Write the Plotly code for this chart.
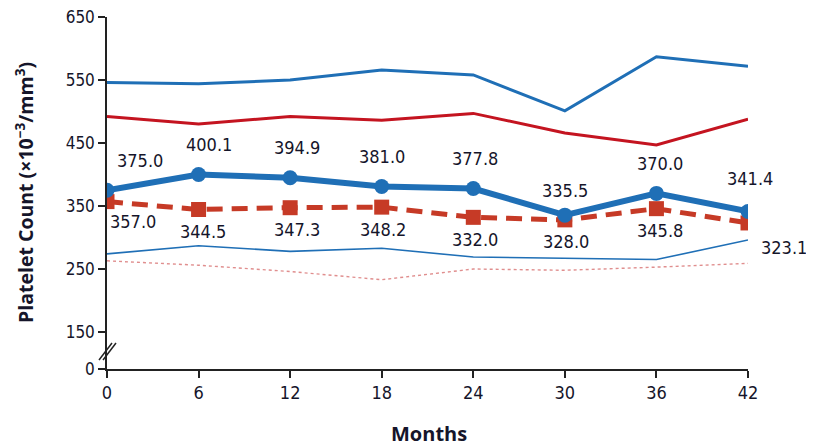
import plotly.graph_objects as go

months = [0, 6, 12, 18, 24, 30, 36, 42]
blue_mean = [375.0, 400.1, 394.9, 381.0, 377.8, 335.5, 370.0, 341.4]
red_mean = [357.0, 344.5, 347.3, 348.2, 332.0, 328.0, 345.8, 323.1]
blue_upper = [546, 544, 550, 566, 558, 501, 587, 572]
red_upper = [492, 480, 492, 486, 497, 466, 447, 488]
blue_lower = [274, 287, 278, 283, 269, 267, 265, 296]
red_lower = [263, 256, 246, 233, 250, 248, 253, 259]
y_ticks = [150, 250, 350, 450, 550, 650]
x_ticks = [0, 6, 12, 18, 24, 30, 36, 42]

BLUE = "#1f6fb6"
RED = "#c63a26"
DARK_RED = "#c41420"
TXT = "#15152a"
FONT = "DejaVu Sans Condensed, DejaVu Sans, sans-serif"
TFONT = "Open Sans, sans-serif"

# y value drawn at the broken-axis "0" tick position
ZERO_POS = 91.3
PW, PH = 641, 352  # plot area in px

fig = go.Figure()
fig.add_trace(go.Scatter(x=months, y=red_lower, mode="lines",
                         line=dict(color="#e08e8e", width=1.4, dash="dot"), hoverinfo="skip"))
fig.add_trace(go.Scatter(x=months, y=blue_lower, mode="lines",
                         line=dict(color=BLUE, width=1.6), hoverinfo="skip"))
fig.add_trace(go.Scatter(x=months, y=red_upper, mode="lines",
                         line=dict(color=DARK_RED, width=3), hoverinfo="skip"))
fig.add_trace(go.Scatter(x=months, y=blue_upper, mode="lines",
                         line=dict(color=BLUE, width=3), hoverinfo="skip"))
fig.add_trace(go.Scatter(x=months, y=red_mean, mode="lines+markers",
                         line=dict(color=RED, width=5, dash="16px,9px"),
                         marker=dict(symbol="square", size=15, color=RED)))
fig.add_trace(go.Scatter(x=months, y=blue_mean, mode="lines+markers",
                         line=dict(color=BLUE, width=6),
                         marker=dict(symbol="circle", size=15, color=BLUE)))

blue_xs = [33, 10, 7, 0, 2, 0, 4, 2]
blue_ys = [30, 30, 30, 30, 30, 25, 30, 33]
red_xs = [26, 4, 7, 1, 2, 1, 4, 36]
red_ys = [20, 22, 22, 22, 22, 22, 22, 25]
for i, m in enumerate(months):
    fig.add_annotation(x=m, y=blue_mean[i], text=f"{blue_mean[i]:.1f}", showarrow=False,
                       xshift=blue_xs[i], yshift=blue_ys[i],
                       font=dict(family=FONT, size=18, color=TXT))
    fig.add_annotation(x=m, y=red_mean[i], text=f"{red_mean[i]:.1f}", showarrow=False,
                       xshift=red_xs[i], yshift=-red_ys[i],
                       font=dict(family=FONT, size=18, color=TXT))

# axis titles
fig.add_annotation(xref="paper", yref="paper", x=0, y=0.5, xshift=-83, textangle=-90,
                   xanchor="center", yanchor="middle",
                   text="<b>Platelet Count (×10<sup>−3</sup>/mm<sup>3</sup>)</b>", showarrow=False,
                   font=dict(family=TFONT, size=19.5, color=TXT))
fig.add_annotation(xref="paper", yref="paper", x=0.5, y=0, yshift=-64, xshift=1,
                   xanchor="center", yanchor="middle",
                   text="<b>Months</b>", showarrow=False,
                   font=dict(family=TFONT, size=20, color=TXT))

# axis break marks
for dx in (0, 4):
    fig.add_shape(type="line", xref="paper", yref="paper",
                  x0=(-8 + dx) / PW, x1=(5 + dx) / PW, y0=9 / PH, y1=26 / PH,
                  line=dict(color="#222", width=1.5))

fig.update_layout(
    width=806, height=440,
    margin=dict(l=99, r=66, t=9, b=79),
    plot_bgcolor="white", paper_bgcolor="white",
    showlegend=False,
    font=dict(family=FONT, color=TXT),
    xaxis=dict(range=[0, 42], tickvals=x_ticks, ticktext=[str(t) for t in x_ticks],
               automargin=False, ticklabeloverflow="allow",
               showgrid=False, zeroline=False, showline=True, linecolor="#222", linewidth=1.5,
               ticks="outside", ticklen=7, tickcolor="#222", tickwidth=1.5,
               tickfont=dict(family=FONT, size=18, color=TXT)),
    yaxis=dict(range=[ZERO_POS, 650], tickvals=[ZERO_POS] + y_ticks,
               ticktext=["0"] + [str(t) for t in y_ticks],
               automargin=False, ticklabeloverflow="allow",
               showgrid=False, zeroline=False, showline=True, linecolor="#222", linewidth=1.5,
               ticks="outside", ticklen=7, tickcolor="#222", tickwidth=1.5,
               tickfont=dict(family=FONT, size=17, color=TXT)),
)

fig.write_html("out.html")
